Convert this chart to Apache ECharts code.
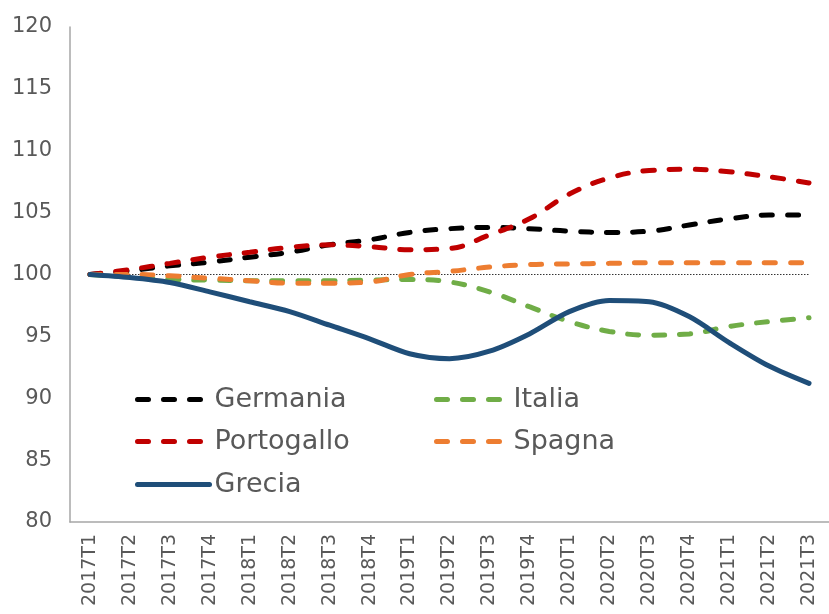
<!DOCTYPE html>
<html>
<head>
<meta charset="utf-8">
<script src="https://cdn.jsdelivr.net/npm/echarts@6/dist/echarts.min.js"></script>
<style>
  html, body { margin: 0; padding: 0; background: #fff; }
  #grafico { width: 829px; height: 614px; }
</style>
</head>
<body>
<div id="grafico"></div>
<script>
// trimestri
var trimestri = ['2017T1','2017T2','2017T3','2017T4','2018T1','2018T2','2018T3','2018T4',
                 '2019T1','2019T2','2019T3','2019T4','2020T1','2020T2','2020T3','2020T4',
                 '2021T1','2021T2','2021T3'];

// valori
var germania   = [100, 100.3, 100.7, 101.0, 101.4, 101.8, 102.4, 102.8, 103.4, 103.7, 103.8, 103.7, 103.5, 103.4, 103.5, 104.0, 104.5, 104.8, 104.8];
var italia     = [100, 99.8, 99.6, 99.55, 99.5, 99.5, 99.5, 99.55, 99.6, 99.4, 98.6, 97.4, 96.2, 95.4, 95.1, 95.2, 95.8, 96.2, 96.5];
var portogallo = [100, 100.4, 100.9, 101.4, 101.8, 102.2, 102.4, 102.25, 102.0, 102.1, 103.2, 104.5, 106.5, 107.8, 108.4, 108.5, 108.3, 107.9, 107.4];
var spagna     = [100, 100.0, 99.9, 99.7, 99.5, 99.3, 99.3, 99.4, 100.0, 100.25, 100.6, 100.8, 100.85, 100.9, 100.95, 100.95, 100.95, 100.95, 100.95];
var grecia     = [100, 99.75, 99.35, 98.6, 97.8, 97.0, 95.9, 94.8, 93.6, 93.2, 93.8, 95.2, 97.0, 97.9, 97.8, 96.6, 94.5, 92.6, 91.2];
var base       = [100, 100, 100, 100, 100, 100, 100, 100, 100, 100, 100, 100, 100, 100, 100, 100, 100, 100, 100];

var font = 'DejaVu Sans';
var grigio = '#595959';

var myChart = echarts.init(document.getElementById('grafico'));

function tratteggio(nome, dati, colore) {
    return {
        name: nome,
        type: 'line',
        data: dati,
        smooth: 0.4,
        symbol: 'none',
        color: colore,
        lineStyle: { color: colore, width: 5, type: [11, 15], dashOffset: 0, cap: 'round' }
    };
}

// una legenda per voce, per posizionarle a due colonne
function legenda(nome, x, y) {
    return {
        data: [nome],
        left: x,
        top: y,
        itemWidth: 72,
        itemHeight: 6,
        itemGap: 0,
        itemStyle: { opacity: 0 },
        lineStyle: { width: 5, cap: 'round' },
        textStyle: { fontFamily: font, fontSize: 27, color: grigio }
    };
}

var option = {
    animation: false,
    grid: { left: 70, top: 27, bottom: 92, width: 772 },
    legend: [
        legenda('Germania', 130, 381),
        legenda('Italia', 429, 381),
        legenda('Portogallo', 130, 423),
        legenda('Spagna', 429, 423),
        legenda('Grecia', 130, 466)
    ],
    xAxis: {
        type: 'category',
        data: trimestri,
        boundaryGap: true,
        axisLine: { lineStyle: { color: '#a6a6a6', width: 1.5 } },
        axisTick: { show: false },
        axisLabel: { rotate: 90, margin: 12, fontFamily: font, fontSize: 19, color: grigio, interval: 0 }
    },
    yAxis: {
        type: 'value',
        min: 80,
        max: 120,
        interval: 5,
        splitLine: { show: false },
        axisLine: { show: true, lineStyle: { color: '#a6a6a6', width: 1.5 } },
        axisTick: { show: false },
        axisLabel: { margin: 18, fontFamily: font, fontSize: 21, color: grigio }
    },
    series: [
        {
            name: 'base',
            type: 'line',
            data: base,
            symbol: 'none',
            lineStyle: { color: '#333', width: 1.2, type: [1.5, 1.5] }
        },
        tratteggio('Germania', germania, '#000000'),
        tratteggio('Italia', italia, '#70ad47'),
        tratteggio('Portogallo', portogallo, '#c00000'),
        tratteggio('Spagna', spagna, '#ed7d31'),
        {
            name: 'Grecia',
            type: 'line',
            data: grecia,
            smooth: 0.3,
            symbol: 'none',
            color: '#1f4e79',
            lineStyle: { color: '#1f4e79', width: 5, cap: 'round' }
        }
    ]
};

myChart.setOption(option);
</script>
</body>
</html>
